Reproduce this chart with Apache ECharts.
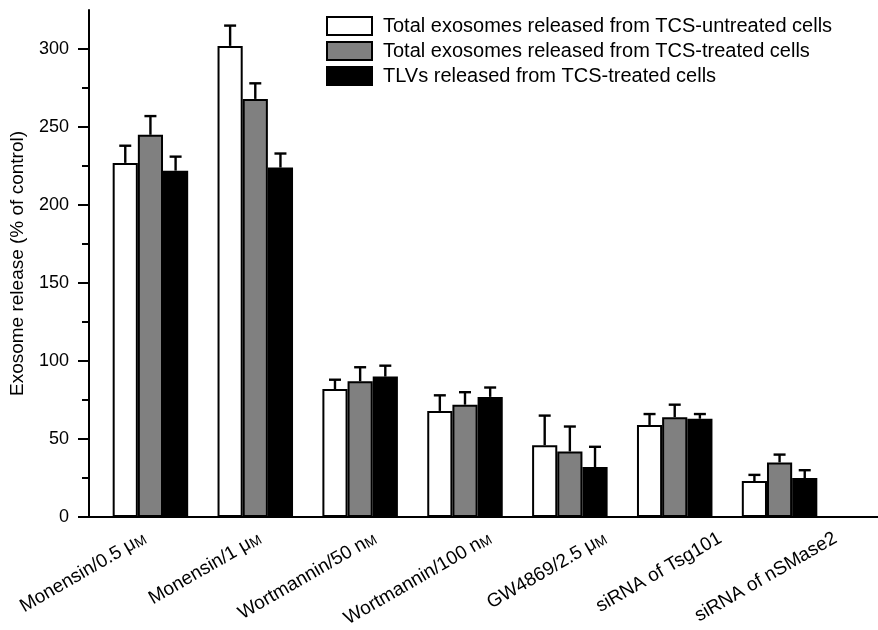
<!DOCTYPE html>
<html>
<head>
<meta charset="utf-8">
<script src="https://cdn.jsdelivr.net/npm/echarts@6/dist/echarts.min.js"></script>
<style>
  html, body { margin: 0; padding: 0; background: #fff; }
  #chart { width: 878px; height: 630px; }
</style>
</head>
<body>
<div id="chart"></div>
<script>
var categories = [
  "Monensin/0.5 μ{sc|M}",
  "Monensin/1 μ{sc|M}",
  "Wortmannin/50 n{sc|M}",
  "Wortmannin/100 n{sc|M}",
  "GW4869/2.5 μ{sc|M}",
  "siRNA of Tsg101",
  "siRNA of nSMase2"
];
var seriesNames = [
  "Total exosomes released from TCS-untreated cells",
  "Total exosomes released from TCS-treated cells",
  "TLVs released from TCS-treated cells"
];
var untreated = [227, 302, 82, 68, 46, 59, 23];
var treated = [245, 268, 87, 72, 42, 64, 35];
var tlvs = [222, 224, 90, 77, 32, 63, 25];
var untreatedErr = [11, 13, 6, 10, 19, 7, 4];
var treatedErr = [12, 10, 9, 8, 16, 8, 5];
var tlvsErr = [9, 9, 7, 6, 13, 3, 5];
var yMajorTicks = [0, 50, 100, 150, 200, 250, 300];
var yMinorTicks = [25, 75, 125, 175, 225, 275];

var colors = ["#ffffff", "#808080", "#000000"];
var means = [untreated, treated, tlvs];
var errs = [untreatedErr, treatedErr, tlvsErr];
var catGap = 0.28;
var font = "Liberation Sans, Arial, sans-serif";

function errorSeries(k) {
  var data = means[k].map(function (v, i) {
    return [i, v, v + errs[k][i]];
  });
  return {
    type: "custom",
    z: 5,
    silent: true,
    data: data,
    encode: { x: 0, y: [1, 2] },
    renderItem: function (params, api) {
      var x = api.value(0);
      var base = api.coord([x, api.value(1)]);
      var top = api.coord([x, api.value(2)]);
      var band = api.size([1, 0])[0];
      var barW = (band * (1 - catGap)) / 3;
      var cx = base[0] + (k - 1) * barW;
      var style = { stroke: "#000", lineWidth: 2.4 };
      return {
        type: "group",
        children: [
          { type: "line", shape: { x1: cx, y1: base[1], x2: cx, y2: top[1] }, style: style },
          { type: "line", shape: { x1: cx - 6, y1: top[1], x2: cx + 6, y2: top[1] }, style: style }
        ]
      };
    }
  };
}

var barSeries = means.map(function (vals, k) {
  return {
    name: seriesNames[k],
    type: "bar",
    data: vals,
    barGap: "0%",
    barCategoryGap: catGap * 100 + "%",
    itemStyle: { color: colors[k], borderColor: "#000", borderWidth: 2 }
  };
});

var option = {
  animation: false,
  textStyle: { fontFamily: font, color: "#000" },
  grid: [
    { left: 98, right: 46, top: 10, bottom: 113, outerBoundsMode: "none" },
    // label grid: category labels in the original sit on a slightly wider spacing
    { left: 87, width: 806, top: 10, bottom: 113, outerBoundsMode: "none" }
  ],
  legend: {
    data: seriesNames,
    orient: "vertical",
    left: 321,
    top: 11,
    icon: "rect",
    itemWidth: 45,
    itemHeight: 18,
    itemGap: 5,
    selectedMode: false,
    textStyle: { fontSize: 20, lineHeight: 19, color: "#000", fontFamily: font, padding: [0, 0, 0, 6] }
  },
  xAxis: [
    {
      type: "category",
      gridIndex: 0,
      data: categories,
      axisLine: { show: false },
      axisTick: { show: false },
      axisLabel: { show: false }
    },
    {
      type: "category",
      gridIndex: 1,
      data: categories,
      axisLine: { show: false },
      axisTick: { show: false },
      axisLabel: {
        interval: 0,
        rotate: 30,
        fontSize: 19,
        color: "#000",
        margin: 20,
        rich: { sc: { fontSize: 14, color: "#000", verticalAlign: "bottom" } }
      }
    }
  ],
  yAxis: [
    {
      type: "value",
      gridIndex: 0,
      min: 0,
      max: 325,
      interval: 25,
      offset: 9,
      name: "Exosome release (% of control)",
      nameLocation: "middle",
      nameGap: 62,
      nameTextStyle: { fontSize: 19, color: "#000" },
      splitLine: { show: false },
      axisLine: { show: true, lineStyle: { color: "#000", width: 2 } },
      axisTick: {
        show: true,
        length: 11,
        customValues: yMajorTicks,
        lineStyle: { color: "#000", width: 2 }
      },
      axisLabel: {
        customValues: yMajorTicks,
        fontSize: 18,
        color: "#000",
        margin: 20
      }
    },
    {
      type: "value",
      gridIndex: 0,
      position: "left",
      min: 0,
      max: 325,
      interval: 25,
      offset: 9,
      splitLine: { show: false },
      axisLine: { show: false },
      axisLabel: { show: false },
      axisTick: {
        show: true,
        length: 7,
        customValues: yMinorTicks,
        lineStyle: { color: "#000", width: 2 }
      }
    },
    {
      type: "value",
      gridIndex: 1,
      show: false,
      min: 0,
      max: 325
    }
  ],
  graphic: [
    {
      type: "line",
      shape: { x1: 88, y1: 517, x2: 878, y2: 517 },
      style: { stroke: "#000", lineWidth: 2 },
      z: 10
    }
  ],
  series: barSeries.concat([errorSeries(0), errorSeries(1), errorSeries(2)])
};

var chart = echarts.init(document.getElementById("chart"));
chart.setOption(option);
</script>
</body>
</html>
